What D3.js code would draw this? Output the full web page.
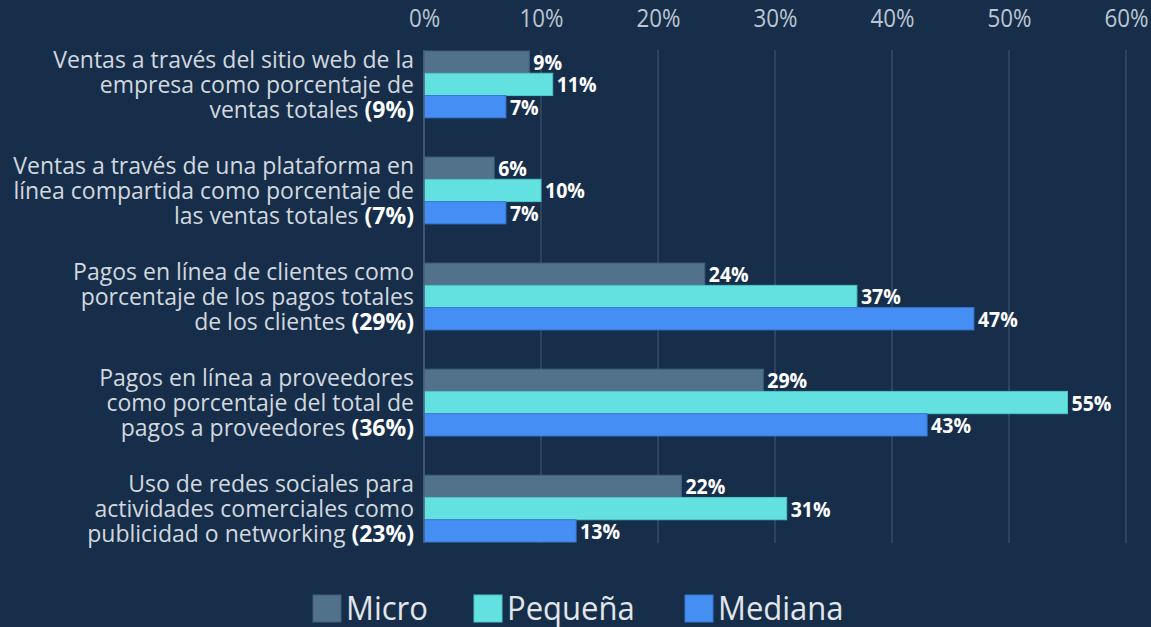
<!DOCTYPE html>
<html>
<head>
<meta charset="utf-8">
<script src="https://cdn.jsdelivr.net/npm/d3@7"></script>
<style>
  html, body { margin: 0; padding: 0; background: #172e4b; }
  svg { display: block; }
  text { font-family: "Open Sans", sans-serif; }
</style>
</head>
<body>
<svg id="chart" width="1151" height="627"></svg>
<script>
// ---- Data ----
const categories = [
  ["Ventas a través del sitio web de la", "empresa como porcentaje de", "ventas totales"],
  ["Ventas a través de una plataforma en", "línea compartida como porcentaje de", "las ventas totales"],
  ["Pagos en línea de clientes como", "porcentaje de los pagos totales", "de los clientes"],
  ["Pagos en línea a proveedores", "como porcentaje del total de", "pagos a proveedores"],
  ["Uso de redes sociales para", "actividades comerciales como", "publicidad o networking"]
];
const categoryTotals = ["(9%)", "(7%)", "(29%)", "(36%)", "(23%)"];
const seriesNames = ["Micro", "Pequeña", "Mediana"];
const micro   = [9, 6, 24, 29, 22];
const pequena = [11, 10, 37, 55, 31];
const mediana = [7, 7, 47, 43, 13];
const tickValues = [0, 10, 20, 30, 40, 50, 60];

// ---- Styles ----
const colors = ["#52718a", "#63e1e0", "#458ef4"];
const strokes = ["#42607a", "#4fc4c6", "#3a78d0"];

const seriesValues = [micro, pequena, mediana];
const svg = d3.select("#chart");

const x = d3.scaleLinear().domain([0, 60]).range([424, 1126]);
const y = d3.scaleBand().domain(d3.range(categories.length)).range([51, 542]).paddingInner(0.37).paddingOuter(0);
const ys = d3.scaleBand().domain(d3.range(seriesNames.length)).range([0, y.bandwidth()]);

// gridlines
svg.append("g").selectAll("line").data(tickValues.slice(1)).join("line")
  .attr("x1", d => x(d)).attr("x2", d => x(d))
  .attr("y1", 50).attr("y2", 543)
  .attr("stroke", "#3b5472").attr("stroke-width", 1.2);

// top axis labels
const axis = d3.axisTop(x).tickValues(tickValues).tickFormat(d => d + "%").tickSize(0).tickPadding(0);
const ag = svg.append("g").attr("transform", "translate(0,27)").call(axis);
ag.select(".domain").remove();
ag.selectAll("text")
  .attr("y", 0).attr("dy", 0)
  .attr("fill", "#bcc6d0").attr("font-size", 26)
  .attr("font-family", "'Open Sans', sans-serif")
  .attr("transform", "scale(0.86,1)");

// bars
const groups = svg.append("g").selectAll("g").data(categories).join("g")
  .attr("transform", (d, i) => `translate(0,${y(i)})`);

groups.each(function(c, i) {
  const g = d3.select(this);
  seriesValues.forEach((vals, s) => {
    g.append("rect")
      .attr("x", x(0))
      .attr("y", ys(s))
      .attr("width", x(vals[i]) - x(0))
      .attr("height", ys.bandwidth())
      .attr("fill", colors[s])
      .attr("stroke", strokes[s])
      .attr("stroke-width", 1);
    g.append("text")
      .attr("transform", `translate(${x(vals[i]) + 4},${ys(s) + ys.bandwidth() / 2}) scale(0.93,1)`)
      .attr("dy", "0.38em")
      .attr("fill", "#ffffff")
      .attr("font-weight", 700)
      .attr("font-size", 21)
      .text(vals[i] + "%");
  });
  // label
  const t = g.append("text")
    .attr("text-anchor", "end")
    .attr("fill", "#d2d8de")
    .attr("font-size", 23);
  c.forEach((line, k) => {
    const ts = t.append("tspan")
      .attr("x", 414)
      .attr("y", y.bandwidth() / 2 + (k - 1) * 25)
      .attr("dy", "0.36em")
      .text(line);
    if (k === c.length - 1) {
      ts.text(line + " ");
      t.append("tspan").attr("font-weight", 700).attr("fill", "#ffffff").text(categoryTotals[i]);
    }
  });
});

// left axis line
svg.append("line")
  .attr("x1", x(0)).attr("x2", x(0))
  .attr("y1", 50).attr("y2", 543)
  .attr("stroke", "#4a6380").attr("stroke-width", 1.5);

// legend
const legendX = [313, 474, 685];
const lg = svg.append("g").selectAll("g").data(seriesNames).join("g")
  .attr("transform", (d, i) => `translate(${legendX[i]},595)`);
lg.append("rect").attr("width", 28).attr("height", 27)
  .attr("fill", (d, i) => colors[i]).attr("stroke", (d, i) => strokes[i]).attr("stroke-width", 1);
lg.append("text")
  .attr("transform", "translate(33,13.5) scale(0.94,1)")
  .attr("dy", "0.36em")
  .attr("fill", "#e2e6ea").attr("font-size", 33).text(d => d);
</script>
</body>
</html>
